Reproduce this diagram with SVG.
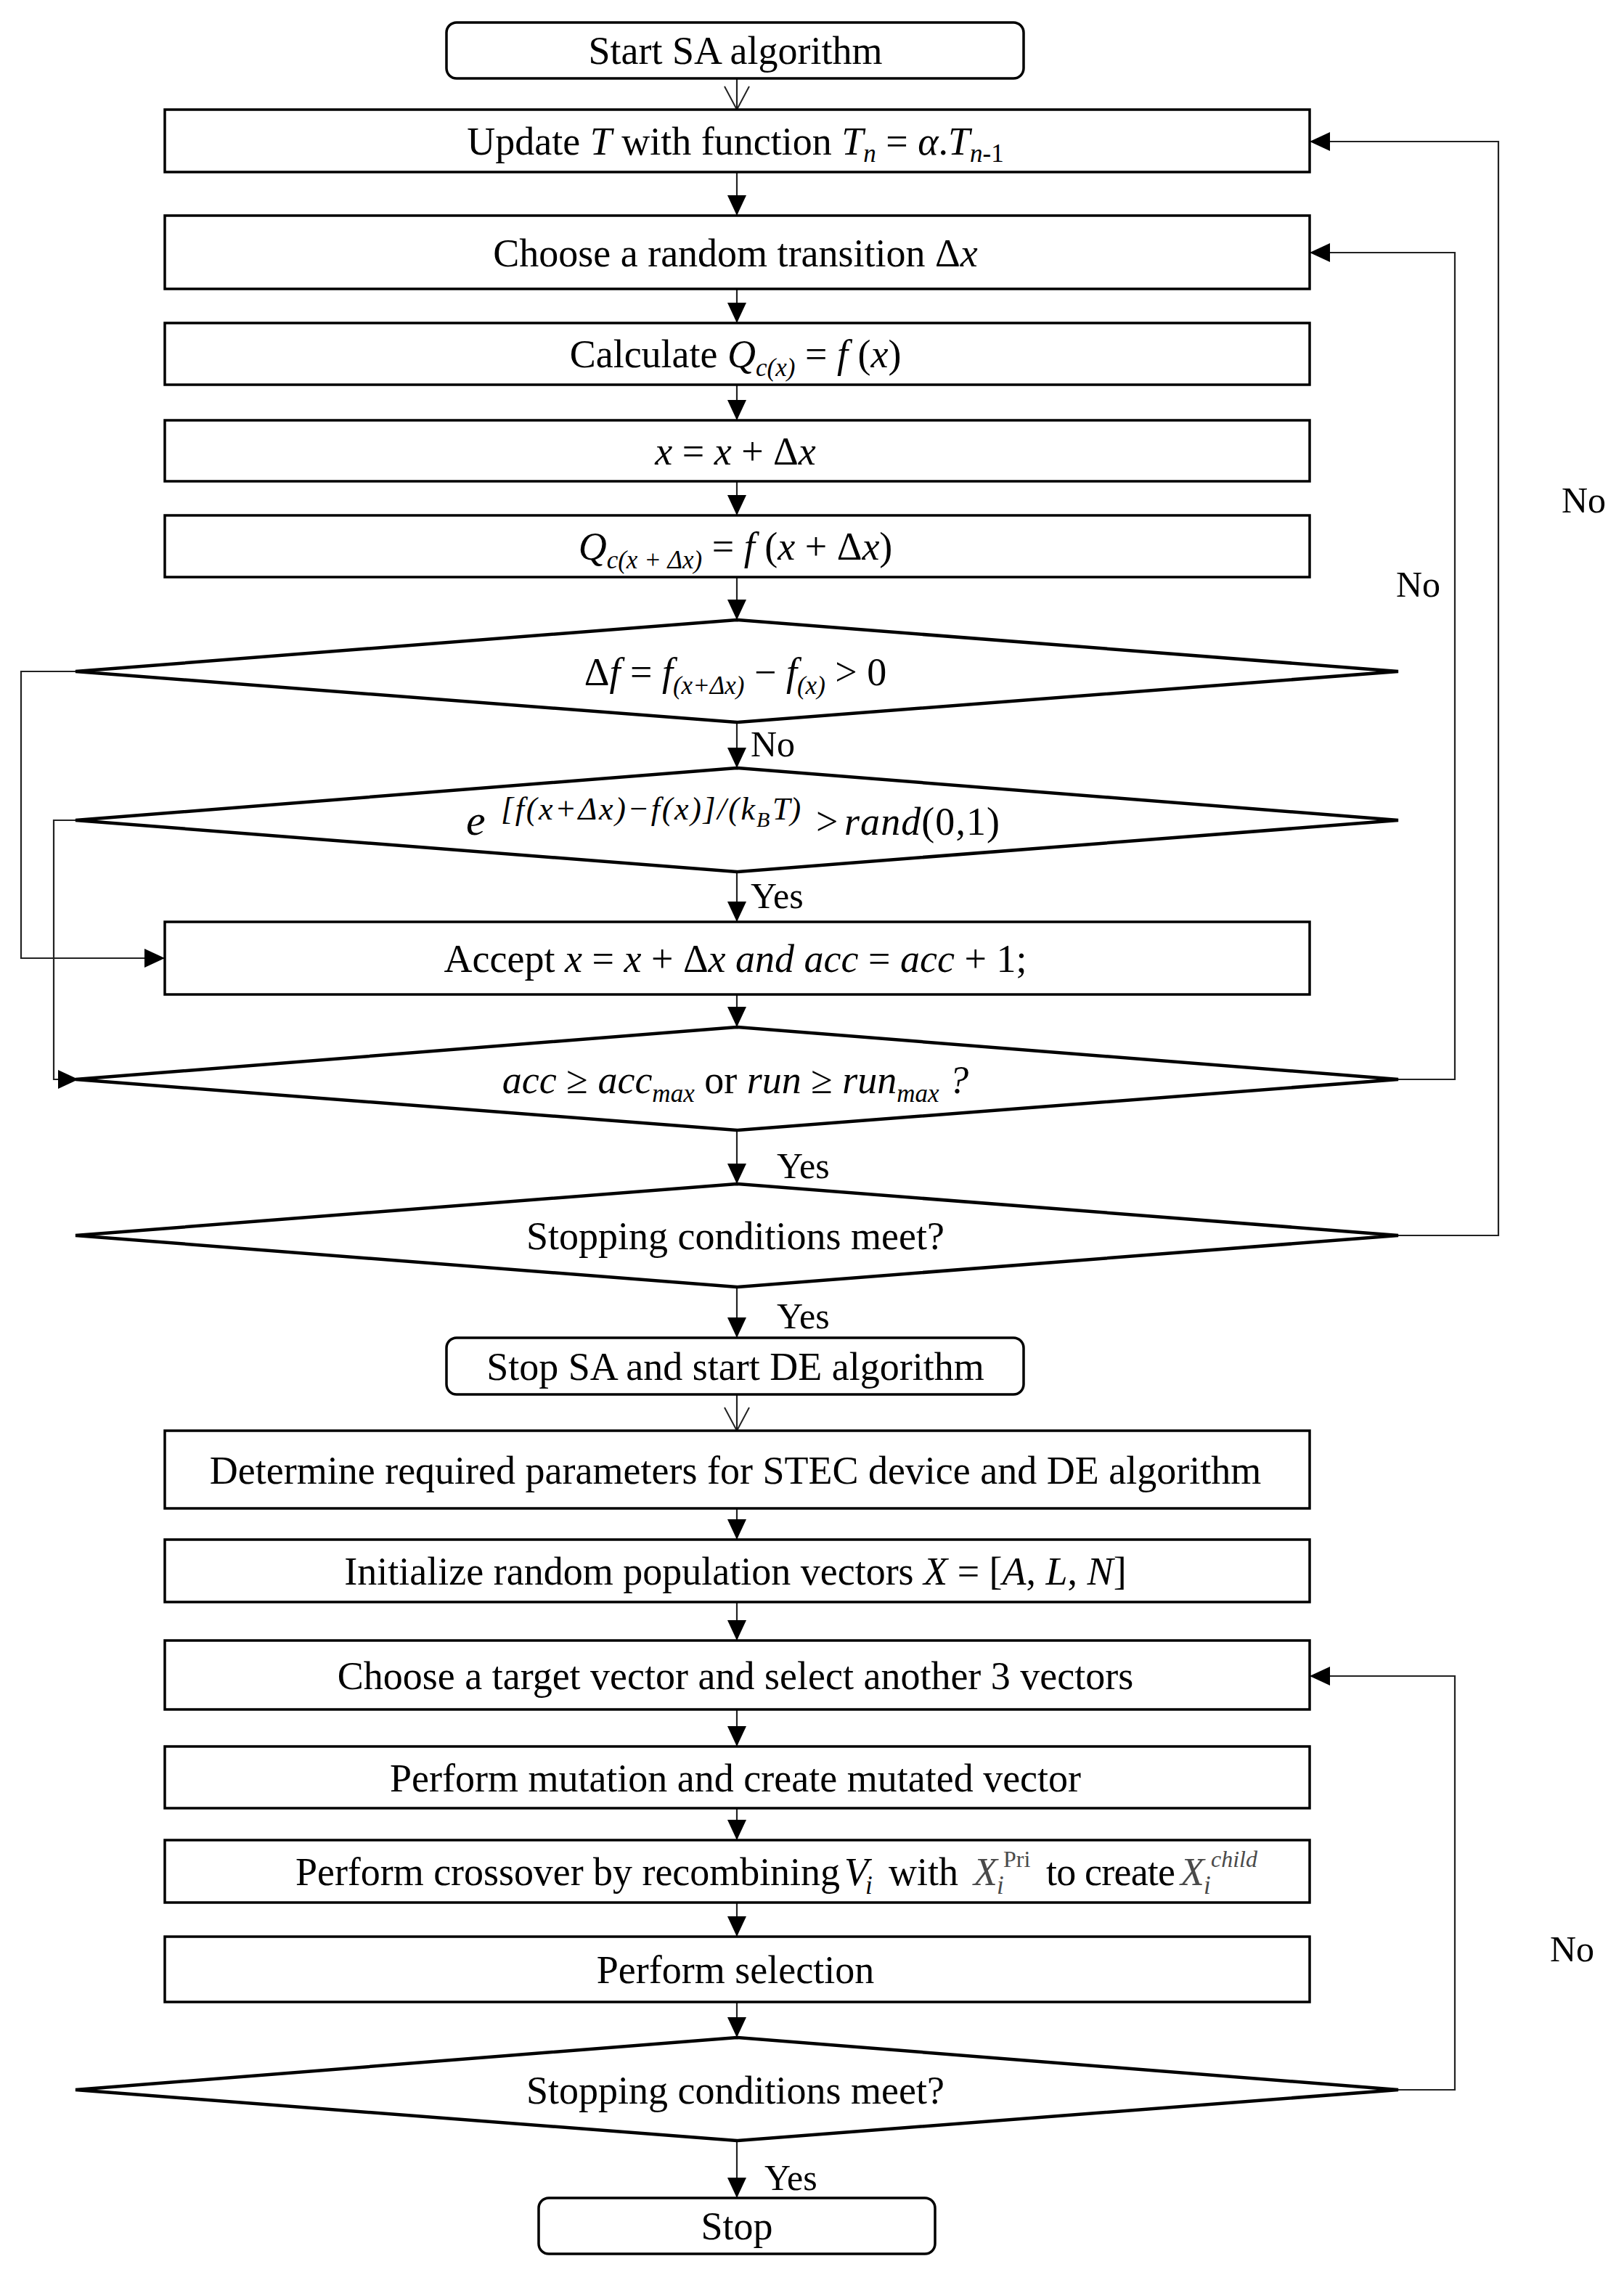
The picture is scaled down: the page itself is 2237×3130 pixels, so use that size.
<svg xmlns="http://www.w3.org/2000/svg" width="2237" height="3130" viewBox="0 0 2237 3130">
<defs>
<style>
.box{fill:#fff;stroke:#000;stroke-width:3.5}
.dia{fill:#fff;stroke:#000;stroke-width:4.5;stroke-linejoin:miter}
.con{fill:none;stroke:#222;stroke-width:2.2}
.t{font-family:'Liberation Serif','Times New Roman',serif;font-size:54px;fill:#000;text-anchor:middle}
.ts{font-family:'Liberation Serif','Times New Roman',serif;font-size:54px;fill:#000;text-anchor:start}
.lbl{font-family:'Liberation Serif','Times New Roman',serif;font-size:50px;fill:#000}
.i{font-style:italic}
.s{font-size:35px}
.g{fill:#4a4a4a}
</style>
<marker id="ah" markerUnits="userSpaceOnUse" viewBox="0 0 28 26" markerWidth="28" markerHeight="26" refX="28" refY="13" orient="auto">
<path d="M0,0 L28,13 L0,26 z" fill="#000"/>
</marker>
<marker id="ov" markerUnits="userSpaceOnUse" viewBox="-2 -2 36 38" markerWidth="36" markerHeight="38" refX="32" refY="17" orient="auto">
<path d="M0,0 L32,17 L0,34" fill="none" stroke="#222" stroke-width="2"/>
</marker>
</defs>
<rect width="2237" height="3130" fill="#fff"/>

<g id="connectors">
<line class="con" x1="1015" y1="108" x2="1015" y2="151" marker-end="url(#ov)"/>
<line class="con" x1="1015" y1="237" x2="1015" y2="297" marker-end="url(#ah)"/>
<line class="con" x1="1015" y1="398" x2="1015" y2="445" marker-end="url(#ah)"/>
<line class="con" x1="1015" y1="530" x2="1015" y2="579" marker-end="url(#ah)"/>
<line class="con" x1="1015" y1="663" x2="1015" y2="710" marker-end="url(#ah)"/>
<line class="con" x1="1015" y1="795" x2="1015" y2="854" marker-end="url(#ah)"/>
<line class="con" x1="1015" y1="995" x2="1015" y2="1058" marker-end="url(#ah)"/>
<line class="con" x1="1015" y1="1201" x2="1015" y2="1270" marker-end="url(#ah)"/>
<line class="con" x1="1015" y1="1370" x2="1015" y2="1415" marker-end="url(#ah)"/>
<line class="con" x1="1015" y1="1557" x2="1015" y2="1631" marker-end="url(#ah)"/>
<line class="con" x1="1015" y1="1773" x2="1015" y2="1843" marker-end="url(#ah)"/>
<line class="con" x1="1015" y1="1921" x2="1015" y2="1971" marker-end="url(#ov)"/>
<line class="con" x1="1015" y1="2078" x2="1015" y2="2121" marker-end="url(#ah)"/>
<line class="con" x1="1015" y1="2207" x2="1015" y2="2260" marker-end="url(#ah)"/>
<line class="con" x1="1015" y1="2355" x2="1015" y2="2406" marker-end="url(#ah)"/>
<line class="con" x1="1015" y1="2491" x2="1015" y2="2535" marker-end="url(#ah)"/>
<line class="con" x1="1015" y1="2621" x2="1015" y2="2668" marker-end="url(#ah)"/>
<line class="con" x1="1015" y1="2758" x2="1015" y2="2807" marker-end="url(#ah)"/>
<line class="con" x1="1015" y1="2949" x2="1015" y2="3028" marker-end="url(#ah)"/>
<polyline class="con" points="104,925 29,925 29,1320 227,1320" marker-end="url(#ah)"/>
<polyline class="con" points="104,1130 74,1130 74,1487 108,1487" marker-end="url(#ah)"/>
<polyline class="con" points="1926,1487 2004,1487 2004,348 1804,348" marker-end="url(#ah)"/>
<polyline class="con" points="1926,1702 2064,1702 2064,195 1804,195" marker-end="url(#ah)"/>
<polyline class="con" points="1926,2879 2004,2879 2004,2309 1804,2309" marker-end="url(#ah)"/>
<text class="lbl" x="1034" y="1042">No</text>
<text class="lbl" x="1034" y="1251">Yes</text>
<text class="lbl" x="1070" y="1623">Yes</text>
<text class="lbl" x="1070" y="1830">Yes</text>
<text class="lbl" x="1053" y="3017">Yes</text>
<text class="lbl" x="2151" y="706">No</text>
<text class="lbl" x="1923" y="822">No</text>
<text class="lbl" x="2135" y="2702">No</text>
</g>

<g id="start">
<rect class="box" x="615" y="31" width="795" height="77" rx="14"/>
<text class="t" x="1013" y="88">Start SA algorithm</text>
</g>
<g id="updateT">
<rect class="box" x="227" y="151" width="1577" height="86"/>
<text class="t" x="1013" y="213">Update <tspan class="i">T</tspan> with function <tspan class="i">T</tspan><tspan class="i s" dy="10">n</tspan><tspan dy="-10"> = </tspan><tspan class="i">α</tspan>.<tspan class="i">T</tspan><tspan class="i s" dy="10">n</tspan><tspan class="s">-1</tspan></text>
</g>
<g id="chooseTransition">
<rect class="box" x="227" y="297" width="1577" height="101"/>
<text class="t" x="1013" y="367">Choose a random transition Δ<tspan class="i">x</tspan></text>
</g>
<g id="calculate">
<rect class="box" x="227" y="445" width="1577" height="85"/>
<text class="t" x="1013" y="506">Calculate <tspan class="i">Q</tspan><tspan class="i s" dy="12">c(x)</tspan><tspan dy="-12"> = </tspan><tspan class="i">f</tspan> (<tspan class="i">x</tspan>)</text>
</g>
<g id="updateX">
<rect class="box" x="227" y="579" width="1577" height="84"/>
<text class="t" x="1013" y="640"><tspan class="i">x</tspan> = <tspan class="i">x</tspan> + Δ<tspan class="i">x</tspan></text>
</g>
<g id="calcNew">
<rect class="box" x="227" y="710" width="1577" height="85"/>
<text class="t" x="1013" y="771"><tspan class="i">Q</tspan><tspan class="i s" dy="12">c(x + Δx)</tspan><tspan dy="-12"> = </tspan><tspan class="i">f</tspan> (<tspan class="i">x</tspan> + Δ<tspan class="i">x</tspan>)</text>
</g>
<g id="deltaF">
<polygon class="dia" points="104,925 1015,854 1926,925 1015,995"/>
<text class="t" x="1013" y="944">Δ<tspan class="i">f</tspan> = <tspan class="i">f</tspan><tspan class="i s" dy="12">(x+Δx)</tspan><tspan dy="-12"> − </tspan><tspan class="i">f</tspan><tspan class="i s" dy="12">(x)</tspan><tspan dy="-12"> &gt; 0</tspan></text>
</g>
<g id="metropolis">
<polygon class="dia" points="104,1130 1015,1058 1926,1130 1015,1201"/>
<text class="ts i" x="642" y="1150" style="font-size:60px">e</text>
<text class="ts i" x="690" y="1129" style="font-size:44px" textLength="350" lengthAdjust="spacing">[f(x+Δx)−f(x)]/(k</text>
<text class="ts i" x="1042" y="1139" style="font-size:30px">B</text>
<text class="ts i" x="1064" y="1129" style="font-size:44px">T)</text>
<text class="ts" x="1124" y="1150">&gt;</text>
<text class="ts" x="1163" y="1150" textLength="214" lengthAdjust="spacing"><tspan class="i">rand</tspan>(0,1)</text>
</g>
<g id="accept">
<rect class="box" x="227" y="1270" width="1577" height="100"/>
<text class="t" x="1013" y="1339">Accept <tspan class="i">x</tspan> = <tspan class="i">x</tspan> + Δ<tspan class="i">x and acc</tspan> = <tspan class="i">acc</tspan> + 1;</text>
</g>
<g id="accRun">
<polygon class="dia" points="104,1487 1015,1415 1926,1487 1015,1557"/>
<text class="t" x="1013" y="1506"><tspan class="i">acc</tspan> ≥ <tspan class="i">acc</tspan><tspan class="i s" dy="12">max</tspan><tspan dy="-12"> or </tspan><tspan class="i">run</tspan> ≥ <tspan class="i">run</tspan><tspan class="i s" dy="12">max</tspan><tspan class="i" dy="-12"> ?</tspan></text>
</g>
<g id="stopCondSA">
<polygon class="dia" points="104,1702 1015,1631 1926,1702 1015,1773"/>
<text class="t" x="1013" y="1721">Stopping conditions meet?</text>
</g>
<g id="stopSA">
<rect class="box" x="615" y="1843" width="795" height="78" rx="14"/>
<text class="t" x="1013" y="1901">Stop SA and start DE algorithm</text>
</g>
<g id="determine">
<rect class="box" x="227" y="1971" width="1577" height="107"/>
<text class="t" x="1013" y="2044">Determine required parameters for STEC device and DE algorithm</text>
</g>
<g id="initialize">
<rect class="box" x="227" y="2121" width="1577" height="86"/>
<text class="t" x="1013" y="2183">Initialize random population vectors <tspan class="i">X</tspan> = [<tspan class="i">A</tspan>, <tspan class="i">L</tspan>, <tspan class="i">N</tspan>]</text>
</g>
<g id="chooseTarget">
<rect class="box" x="227" y="2260" width="1577" height="95"/>
<text class="t" x="1013" y="2327">Choose a target vector and select another 3 vectors</text>
</g>
<g id="mutation">
<rect class="box" x="227" y="2406" width="1577" height="85"/>
<text class="t" x="1013" y="2468">Perform mutation and create mutated vector</text>
</g>
<g id="crossover">
<rect class="box" x="227" y="2535" width="1577" height="86"/>
<text class="ts" x="407" y="2597" textLength="750" lengthAdjust="spacing">Perform crossover by recombining</text>
<text class="ts i" x="1163" y="2597">V</text>
<text class="ts i s" x="1192" y="2609">i</text>
<text class="ts" x="1224" y="2597">with</text>
<text class="ts i g" x="1341" y="2597">X</text>
<text class="ts i s g" x="1373" y="2609">i</text>
<text class="ts g" x="1382" y="2572" style="font-size:32px">Pri</text>
<text class="ts" x="1441" y="2597" textLength="178" lengthAdjust="spacing">to create</text>
<text class="ts i g" x="1626" y="2597">X</text>
<text class="ts i s g" x="1658" y="2609">i</text>
<text class="ts i g" x="1668" y="2572" style="font-size:32px">child</text>
</g>
<g id="selection">
<rect class="box" x="227" y="2668" width="1577" height="90"/>
<text class="t" x="1013" y="2732">Perform selection</text>
</g>
<g id="stopCondDE">
<polygon class="dia" points="104,2879 1015,2807 1926,2879 1015,2949"/>
<text class="t" x="1013" y="2898">Stopping conditions meet?</text>
</g>
<g id="stop">
<rect class="box" x="742" y="3028" width="546" height="77" rx="14"/>
<text class="t" x="1015" y="3085">Stop</text>
</g>
</svg>
